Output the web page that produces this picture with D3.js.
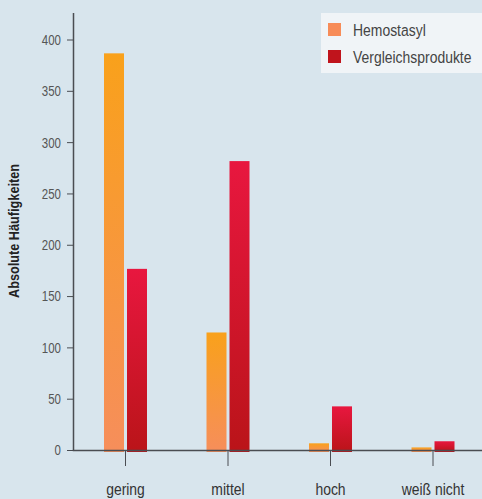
<!DOCTYPE html>
<html>
<head>
<meta charset="utf-8">
<script src="https://cdn.jsdelivr.net/npm/d3@7"></script>
<style>
    body { margin: 0; background: #d8e5ed; }
    svg { display: block; font-family: "Liberation Sans", Arial, sans-serif; }
    .tick-label { font-size: 14px; fill: #555; }
    .cat-label { font-size: 17px; fill: #333; }
    .legend-text { font-size: 17px; fill: #444; }
    .axis-title { font-size: 15.5px; font-weight: bold; fill: #222; }
</style>
</head>
<body>
<div class="chart"></div>
<script>
    var categories = ["gering", "mittel", "hoch", "weiß nicht"];
    var series = ["Hemostasyl", "Vergleichsprodukte"];
    var hemostasyl = [387, 115, 7, 3];
    var vergleich = [177, 282, 43, 9];
    var yTicks = [0, 50, 100, 150, 200, 250, 300, 350, 400];

    var width = 482, height = 499;
    var axisX = 73.5, baseY = 450.5;
    var narrow = 0.82; // condensed look

    function placeText(x, y) {
        return "translate(" + x + ", " + y + ") scale(" + narrow + ", 1)";
    }

    var svg = d3.select(".chart").append("svg")
        .attr("width", width)
        .attr("height", height);

    svg.append("rect")
        .attr("width", width)
        .attr("height", height)
        .style("fill", "#d8e5ed");

    // gradients
    var defs = svg.append("defs");
    var gradColors = [["#f9a11b", "#f68e5b"], ["#e8173f", "#ba1419"]];
    gradColors.forEach(function(c, i) {
        var g = defs.append("linearGradient")
            .attr("id", "grad" + i)
            .attr("x1", 0).attr("y1", 0).attr("x2", 0).attr("y2", 1);
        g.append("stop").attr("offset", "0%").attr("stop-color", c[0]);
        g.append("stop").attr("offset", "100%").attr("stop-color", c[1]);
    });

    var y = d3.scaleLinear().domain([0, 400]).range([baseY, 40]);
    var x = d3.scaleBand().domain(categories).range([74.25, 484.25]);
    var x1 = d3.scaleBand().domain(series).range([-21.5, 21.5]).paddingInner(3 / 23);

    var rows = categories.map(function(c, i) {
        return {cat: c, values: [hemostasyl[i], vergleich[i]]};
    });

    // bars
    var groups = svg.selectAll(".group")
        .data(rows)
        .enter()
        .append("g")
            .classed("group", true)
            .attr("transform", function(d) { return "translate(" + (x(d.cat) + x.bandwidth() / 2) + ", 0)"; });

    groups.selectAll("rect")
        .data(function(d) { return d.values.map(function(v, i) { return {s: series[i], i: i, v: v}; }); })
        .enter()
        .append("rect")
            .attr("x", function(d) { return x1(d.s); })
            .attr("width", x1.bandwidth())
            .attr("y", function(d) { return y(d.v); })
            .attr("height", function(d) { return y(0) - y(d.v) + 1.5; })
            .style("fill", function(d) { return "url(#grad" + d.i + ")"; });

    // y axis
    var axisColor = "#4a4d52";
    svg.append("line")
        .attr("x1", axisX).attr("x2", axisX)
        .attr("y1", 13).attr("y2", baseY)
        .style("stroke", axisColor)
        .style("stroke-width", 1.5);

    var yt = svg.selectAll(".ytick")
        .data(yTicks)
        .enter()
        .append("g")
            .classed("ytick", true)
            .attr("transform", function(d) { return "translate(0, " + y(d) + ")"; });

    yt.append("line")
        .attr("x1", 67).attr("x2", axisX)
        .style("stroke", axisColor)
        .style("stroke-width", 1);

    yt.append("text")
        .classed("tick-label", true)
        .attr("transform", placeText(61, 0))
        .attr("dy", "0.35em")
        .attr("text-anchor", "end")
        .text(function(d) { return d; });

    svg.append("text")
        .classed("axis-title", true)
        .attr("transform", "translate(19, 231) rotate(-90) scale(" + narrow + ", 1)")
        .attr("text-anchor", "middle")
        .text("Absolute Häufigkeiten");

    // x axis
    svg.append("line")
        .attr("x1", axisX - 0.75).attr("x2", width)
        .attr("y1", baseY).attr("y2", baseY)
        .style("stroke", axisColor)
        .style("stroke-width", 1.5);

    var xt = svg.selectAll(".xtick")
        .data(categories)
        .enter()
        .append("g")
            .classed("xtick", true)
            .attr("transform", function(d) { return "translate(" + (x(d) + x.bandwidth() / 2) + ", 0)"; });

    xt.append("line")
        .attr("y1", baseY).attr("y2", 466)
        .style("stroke", axisColor)
        .style("stroke-width", 1);

    xt.append("text")
        .classed("cat-label", true)
        .attr("transform", placeText(0, 495))
        .attr("text-anchor", "middle")
        .text(function(d) { return d; });

    // legend
    var legend = svg.append("g").classed("legend", true);
    legend.append("rect")
        .attr("x", 321).attr("y", 13)
        .attr("width", width - 321).attr("height", 60)
        .style("fill", "#f0f4f7");

    var legendColors = ["#f78c58", "#c0141c"];
    var items = legend.selectAll(".item")
        .data(series)
        .enter()
        .append("g")
            .classed("item", true)
            .attr("transform", function(d, i) { return "translate(328, " + (23 + i * 27) + ")"; });

    items.append("rect")
        .attr("width", 13).attr("height", 13)
        .style("fill", function(d, i) { return legendColors[i]; });

    items.append("text")
        .classed("legend-text", true)
        .attr("transform", placeText(25, 13))
        .text(function(d) { return d; });
</script>
</body>
</html>
